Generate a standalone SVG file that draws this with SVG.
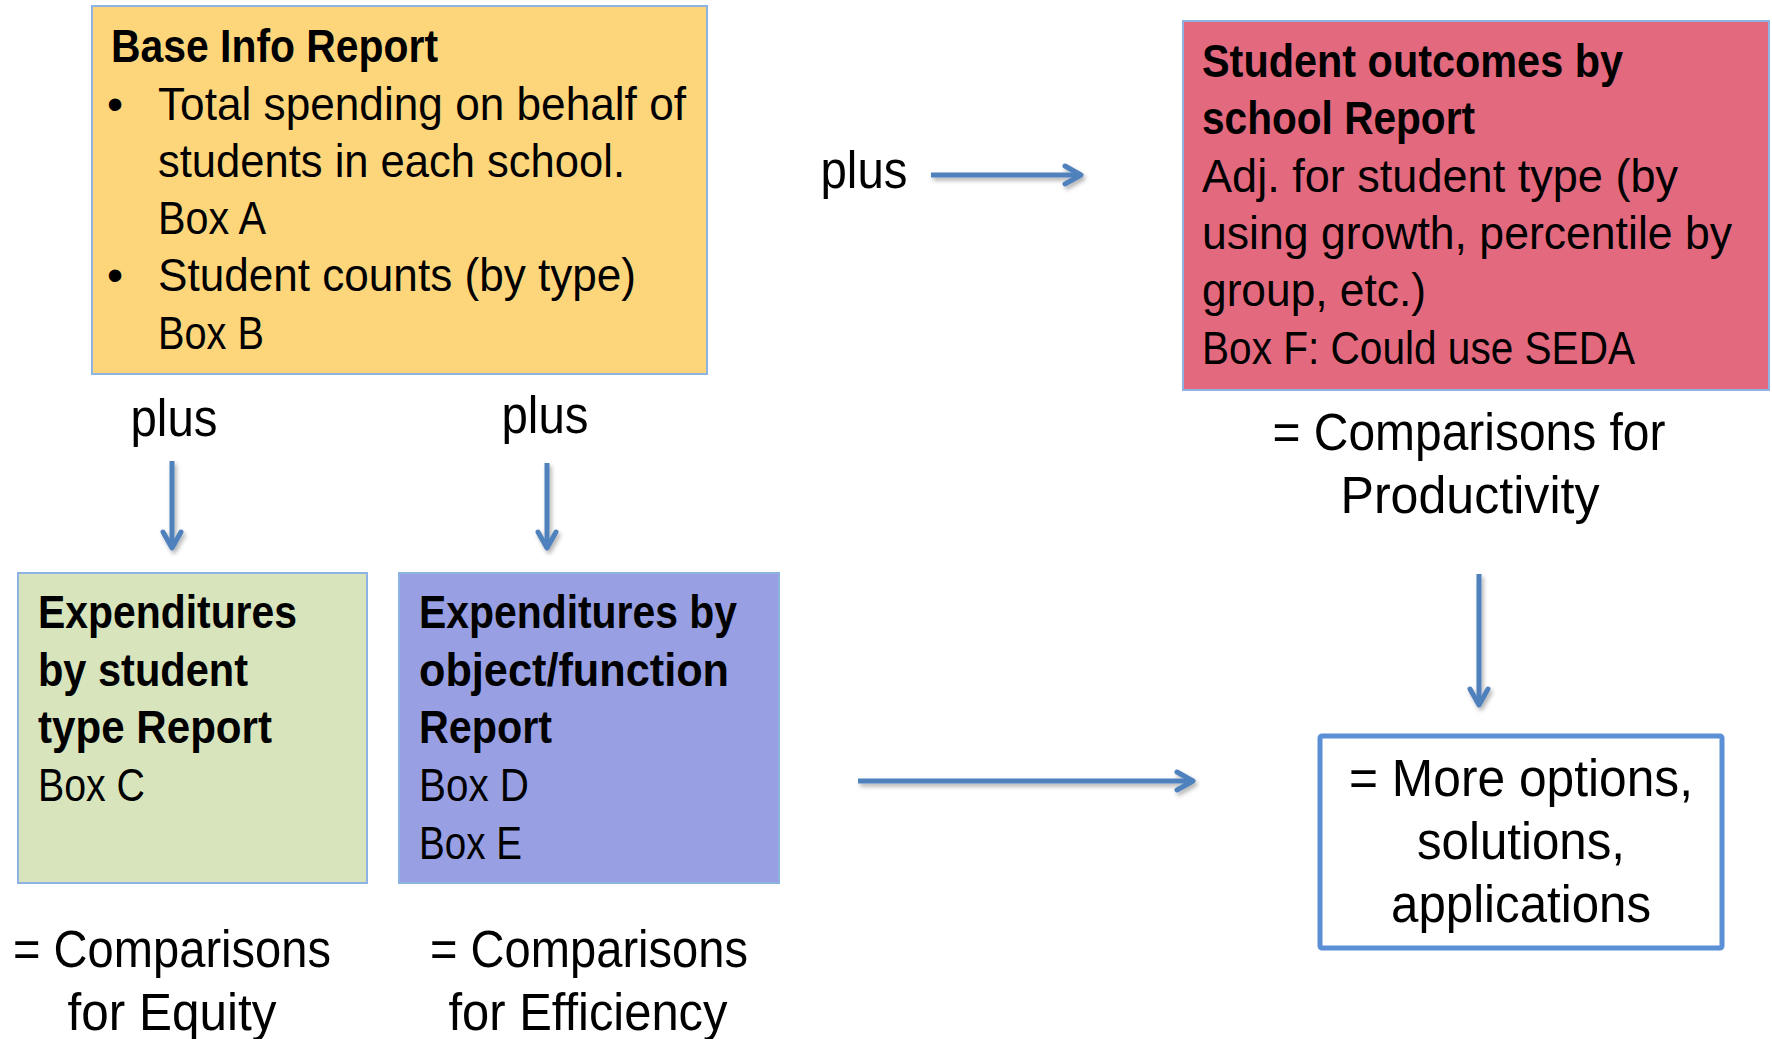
<svg xmlns="http://www.w3.org/2000/svg" width="1772" height="1039" viewBox="0 0 1772 1039">
<style>
text{font-family:"Liberation Sans",Arial,sans-serif;fill:#000}
.b{font-size:46px}
.bb{font-size:46px;font-weight:bold}
.l{font-size:51px}
.box{stroke:#8DB3E2;stroke-width:2}
</style>
<defs>
<filter id="sh" x="-20%" y="-50%" width="140%" height="200%">
<feDropShadow dx="2" dy="3" stdDeviation="2" flood-color="#000" flood-opacity="0.3"/>
</filter>
<marker id="ah" viewBox="-20 -12 24 24" markerWidth="24" markerHeight="24" refX="0" refY="0" orient="auto" markerUnits="userSpaceOnUse" overflow="visible">
<path d="M-16,-9 L0,0 L-16,9" fill="none" stroke="#4F81BD" stroke-width="5" stroke-linecap="round" stroke-linejoin="round"/>
</marker>
</defs>
<rect width="1772" height="1039" fill="#fff"/>

<g id="base">
<rect class="box" x="92" y="6" width="615" height="368" fill="#FDD67B"/>
<text class="bb" x="111" y="62" textLength="327" lengthAdjust="spacingAndGlyphs">Base Info Report</text>
<text class="b" x="107" y="120">•</text>
<text class="b" x="158" y="120" textLength="528" lengthAdjust="spacingAndGlyphs">Total spending on behalf of</text>
<text class="b" x="158" y="177" textLength="467" lengthAdjust="spacingAndGlyphs">students in each school.</text>
<text class="b" x="158" y="234" textLength="108" lengthAdjust="spacingAndGlyphs">Box A</text>
<text class="b" x="107" y="291">•</text>
<text class="b" x="158" y="291" textLength="478" lengthAdjust="spacingAndGlyphs">Student counts (by type)</text>
<text class="b" x="158" y="349" textLength="106" lengthAdjust="spacingAndGlyphs">Box B</text>
</g>

<g id="outcomes">
<rect class="box" x="1183" y="21" width="586" height="369" fill="#E3697E"/>
<text class="bb" x="1202" y="77" textLength="421" lengthAdjust="spacingAndGlyphs">Student outcomes by</text>
<text class="bb" x="1202" y="134" textLength="273" lengthAdjust="spacingAndGlyphs">school Report</text>
<text class="b" x="1202" y="192" textLength="476" lengthAdjust="spacingAndGlyphs">Adj. for student type (by</text>
<text class="b" x="1202" y="249" textLength="530" lengthAdjust="spacingAndGlyphs">using growth, percentile by</text>
<text class="b" x="1202" y="306" textLength="224" lengthAdjust="spacingAndGlyphs">group, etc.)</text>
<text class="b" x="1202" y="364" textLength="433" lengthAdjust="spacingAndGlyphs">Box F: Could use SEDA</text>
</g>

<g id="studenttype">
<rect class="box" x="18" y="573" width="349" height="310" fill="#D8E4BC"/>
<text class="bb" x="38" y="628" textLength="259" lengthAdjust="spacingAndGlyphs">Expenditures</text>
<text class="bb" x="38" y="686" textLength="210" lengthAdjust="spacingAndGlyphs">by student</text>
<text class="bb" x="38" y="743" textLength="234" lengthAdjust="spacingAndGlyphs">type Report</text>
<text class="b" x="38" y="801" textLength="107" lengthAdjust="spacingAndGlyphs">Box C</text>
</g>

<g id="objfunc">
<rect class="box" x="399" y="573" width="380" height="310" fill="#98A0E3"/>
<text class="bb" x="419" y="628" textLength="318" lengthAdjust="spacingAndGlyphs">Expenditures by</text>
<text class="bb" x="419" y="686" textLength="310" lengthAdjust="spacingAndGlyphs">object/function</text>
<text class="bb" x="419" y="743" textLength="133" lengthAdjust="spacingAndGlyphs">Report</text>
<text class="b" x="419" y="801" textLength="110" lengthAdjust="spacingAndGlyphs">Box D</text>
<text class="b" x="419" y="859" textLength="103" lengthAdjust="spacingAndGlyphs">Box E</text>
</g>

<g id="more">
<rect x="1320" y="736" width="402" height="212" rx="2" fill="#fff" stroke="#5B8FD6" stroke-width="5"/>
<text class="l" x="1521" y="796" text-anchor="middle" textLength="344" lengthAdjust="spacingAndGlyphs">= More options,</text>
<text class="l" x="1521" y="859" text-anchor="middle" textLength="208" lengthAdjust="spacingAndGlyphs">solutions,</text>
<text class="l" x="1521" y="922" text-anchor="middle" textLength="260" lengthAdjust="spacingAndGlyphs">applications</text>
</g>

<g id="labels">
<text class="l" x="174" y="436" text-anchor="middle" textLength="87" lengthAdjust="spacingAndGlyphs">plus</text>
<text class="l" x="545" y="433" text-anchor="middle" textLength="87" lengthAdjust="spacingAndGlyphs">plus</text>
<text class="l" x="864" y="188" text-anchor="middle" textLength="87" lengthAdjust="spacingAndGlyphs">plus</text>
<text class="l" x="1469" y="450" text-anchor="middle" textLength="393" lengthAdjust="spacingAndGlyphs">= Comparisons for</text>
<text class="l" x="1470" y="513" text-anchor="middle" textLength="259" lengthAdjust="spacingAndGlyphs">Productivity</text>
<text class="l" x="172" y="967" text-anchor="middle" textLength="318" lengthAdjust="spacingAndGlyphs">= Comparisons</text>
<text class="l" x="172" y="1030" text-anchor="middle" textLength="209" lengthAdjust="spacingAndGlyphs">for Equity</text>
<text class="l" x="589" y="967" text-anchor="middle" textLength="318" lengthAdjust="spacingAndGlyphs">= Comparisons</text>
<text class="l" x="588" y="1030" text-anchor="middle" textLength="279" lengthAdjust="spacingAndGlyphs">for Efficiency</text>
</g>

<g id="connectors" filter="url(#sh)" fill="none" stroke="#4F81BD" stroke-width="5">
<line x1="172" y1="461" x2="172" y2="548" marker-end="url(#ah)"/>
<line x1="547" y1="463" x2="547" y2="548" marker-end="url(#ah)"/>
<line x1="931" y1="175" x2="1081" y2="175" marker-end="url(#ah)"/>
<line x1="1479" y1="574" x2="1479" y2="705" marker-end="url(#ah)"/>
<line x1="858" y1="781" x2="1193" y2="781" marker-end="url(#ah)"/>
</g>
</svg>
